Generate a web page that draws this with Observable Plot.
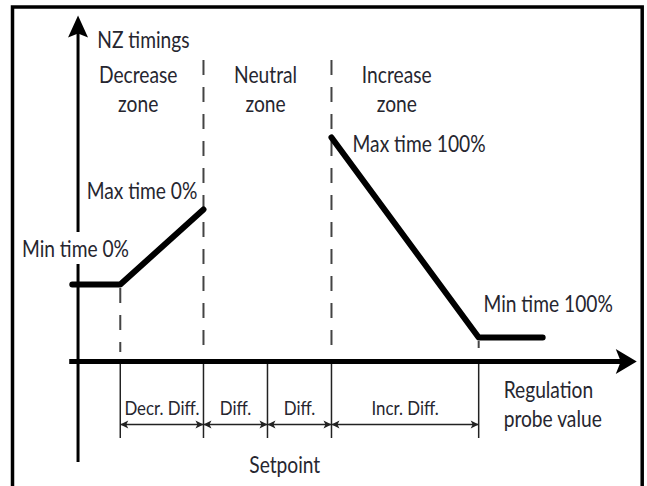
<!DOCTYPE html>
<html><head><meta charset="utf-8">
<script src="https://cdn.jsdelivr.net/npm/d3@7"></script>
<script src="https://cdn.jsdelivr.net/npm/@observablehq/plot@0.6"></script>
<style>html,body{margin:0;padding:0;background:#fff;}</style>
</head><body><div id="chart"></div>
<script>
// x: regulation probe value, in units of one "Diff." (setpoint = 0)
// y: NZ timing (arbitrary units, 0 = x axis)
const zoneEdges = [-2.3, -1, 0, 1, 3.3];          // decr. start, neutral start, setpoint, neutral end, incr. end
const diffLabels = ["Decr. Diff.", "Diff.", "Diff.", "Incr. Diff."];
const decrX = [-3.05, -2.3, -1];
const decrY = [7.7, 7.7, 15.2];
const incrX = [1, 3.3, 4.3];
const incrY = [22.4, 2.4, 2.4];
const zoneNames = ["Decrease\nzone", "Neutral\nzone", "Increase\nzone"];
const zoneNameX = [-2.02, -0.03, 2.02];
const pointLabels = ["Min time 0%", "Max time 0%", "Max time 100%", "Min time 100%"];
const pointLabelX = [-3.0, -1.96, 1.33, 3.375];
const pointLabelY = [10.5, 16.3, 21.0, 5.0];
const pointLabelAnchor = ["middle", "middle", "start", "start"];
const dashX = [-2.3, -1, 1, 3.3];
const dashTop = [7.3, 30.1, 30.1, 2.0];
const dashBottom = [0.9, 0.9, 0.9, 1.3];
const axisX = [-3.09, 5.77];          // x axis extent (arrow tip at end)
const yAxisLow = [-10.1, 9.7];        // y axis below the "Min time 0%" label
const yAxisHigh = [12.9, 34.6];       // y axis above the label (arrow tip at end)
const yAxisAt = -2.96;
const tickBottom = -7.7;
const dimY = -6.3;
const diffLabelY = -5.35;

const FONT = "Lato, 'Open Sans', sans-serif";
const INK = "#26262f";

function arrowSymbol(angleDeg, L, W, notch) {
  const a = angleDeg * Math.PI / 180, c = Math.cos(a), s = Math.sin(a);
  const pts = [[0, 0], [-L, -W / 2], [-L + notch, 0], [-L, W / 2]]
    .map(([x, y]) => [x * c - y * s, x * s + y * c]);
  return {draw(ctx) { ctx.moveTo(pts[0][0], pts[0][1]); for (let i = 1; i < 4; i++) ctx.lineTo(pts[i][0], pts[i][1]); ctx.closePath(); }};
}

const curve = [
  ...decrX.map((x, i) => ({x, y: decrY[i], seg: "decrease"})),
  ...incrX.map((x, i) => ({x, y: incrY[i], seg: "increase"}))
];
const dims = diffLabels.map((label, i) => ({label, x1: zoneEdges[i], x2: zoneEdges[i + 1], xm: (zoneEdges[i] + zoneEdges[i + 1]) / 2}));
const zones = zoneNames.map((t, i) => ({t, x: zoneNameX[i]}));
const points = pointLabels.map((t, i) => ({t, x: pointLabelX[i], y: pointLabelY[i], a: pointLabelAnchor[i]}));
const dashes = dashX.map((x, i) => ({x, y1: dashTop[i], y2: dashBottom[i]}));
const yAxisParts = [yAxisLow, [yAxisHigh[0], yAxisHigh[1] - 1]].map(([y1, y2]) => ({y1, y2}));

const chart = Plot.plot({
  width: 647, height: 486,
  marginLeft: 12, marginRight: 5.3, marginTop: 6.5, marginBottom: -5,
  x: {domain: [-3.984, 5.855], axis: null},
  y: {domain: [-13, 35.45], axis: null},
  style: {fontFamily: FONT, background: "#fff"},
  marks: [
    Plot.frame({stroke: "#000", strokeWidth: 3.5}),
    Plot.ruleX(dashes, {x: "x", y1: "y1", y2: "y2", stroke: "#444", strokeWidth: 2, strokeDasharray: "15,12"}),
    Plot.ruleX(zoneEdges, {x: d => d, y1: 0, y2: tickBottom, stroke: "#222", strokeWidth: 1.5}),
    Plot.link(dims, {x1: "x1", x2: "x2", y1: dimY, y2: dimY, stroke: "#222", strokeWidth: 1.3}),
    Plot.dot(dims, {x: "x1", y: dimY, r: 4, symbol: arrowSymbol(180, 8, 8, 2), fill: "#222", stroke: "none"}),
    Plot.dot(dims, {x: "x2", y: dimY, r: 4, symbol: arrowSymbol(0, 8, 8, 2), fill: "#222", stroke: "none"}),
    Plot.ruleY([0], {x1: axisX[0], x2: axisX[1] - 0.1, stroke: "#000", strokeWidth: 5}),
    Plot.ruleX(yAxisParts, {x: yAxisAt, y1: "y1", y2: "y2", stroke: "#000", strokeWidth: 3}),
    Plot.dot([0], {x: axisX[1], y: 0, r: 10, symbol: arrowSymbol(0, 21, 25, 5), fill: "#000", stroke: "none"}),
    Plot.dot([0], {x: yAxisAt, y: yAxisHigh[1], r: 10, symbol: arrowSymbol(-90, 22, 20, 4), fill: "#000", stroke: "none"}),
    Plot.line(curve, {x: "x", y: "y", z: "seg", stroke: "#000", strokeWidth: 6, strokeLinecap: "round", strokeLinejoin: "round"}),
    Plot.text(["NZ timings"], {x: -2.66, y: 31.4, text: d => d, textAnchor: "start", lineAnchor: "bottom", fontSize: 23, fill: INK}),
    Plot.text(zones, {x: "x", y: 25.0, text: "t", lineAnchor: "bottom", lineHeight: 1.22, fontSize: 23, fill: INK}),
    Plot.text(points.filter(d => d.a === "middle"), {x: "x", y: "y", text: "t", textAnchor: "middle", lineAnchor: "bottom", fontSize: 23, fill: INK}),
    Plot.text(points.filter(d => d.a === "start"), {x: "x", y: "y", text: "t", textAnchor: "start", lineAnchor: "bottom", fontSize: 23, fill: INK}),
    Plot.text(["Regulation\nprobe value"], {x: 3.69, y: -6.5, text: d => d, textAnchor: "start", lineAnchor: "bottom", lineHeight: 1.22, fontSize: 23, fill: INK}),
    Plot.text(dims, {x: "xm", y: diffLabelY, text: "label", lineAnchor: "bottom", fontSize: 20, fill: INK}),
    Plot.text(["Setpoint"], {x: 0.27, y: -11.1, text: d => d, lineAnchor: "bottom", fontSize: 23, fill: INK})
  ]
});
document.getElementById("chart").appendChild(chart);

// The reference lettering is a condensed humanist face: squeeze text horizontally
// so that a reference label keeps its measured width.
function condense(sample, targetWidth, sizeFilter) {
  const texts = Array.from(chart.querySelectorAll("text"));
  const ref = texts.find(t => t.textContent === sample);
  if (!ref) return;
  const s = targetWidth / ref.getBBox().width;
  texts.filter(sizeFilter).forEach(t => {
    const x = +t.getAttribute("x") || 0, y = +t.getAttribute("y") || 0;
    const tr = t.getAttribute("transform") || "";
    t.setAttribute("transform", `${tr} translate(${x},${y}) scale(${s},1) translate(${-x},${-y})`);
  });
}
const sizeOf = t => parseFloat(t.getAttribute("font-size") || t.parentNode.getAttribute("font-size"));
condense("Max time 100%", 133, t => sizeOf(t) !== 20);
condense("Decr. Diff.", 75, t => sizeOf(t) === 20);
</script>
</body></html>
